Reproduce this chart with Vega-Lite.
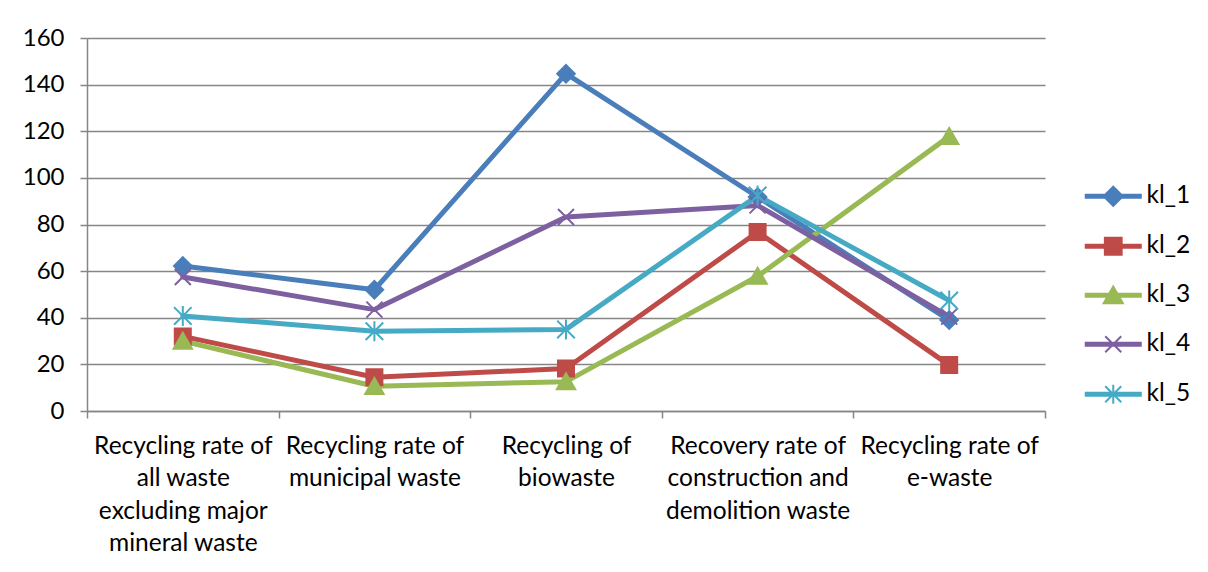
{
  "$schema": "https://vega.github.io/schema/vega-lite/v6.json",
  "width": 958,
  "height": 373,
  "autosize": {"type": "none"},
  "padding": {"left": 87, "top": 38, "right": 163, "bottom": 161},
  "background": "white",
  "config": {"view": {"stroke": null}, "font": "Lato"},
  "data": {"values": [
    {"series": "kl_1", "category": "Recycling rate of all waste excluding major mineral waste", "value": 62.2},
    {"series": "kl_1", "category": "Recycling rate of municipal waste", "value": 52},
    {"series": "kl_1", "category": "Recycling of biowaste", "value": 144.7},
    {"series": "kl_1", "category": "Recovery rate of construction and demolition waste", "value": 91.8},
    {"series": "kl_1", "category": "Recycling rate of e-waste", "value": 39},
    {"series": "kl_2", "category": "Recycling rate of all waste excluding major mineral waste", "value": 32},
    {"series": "kl_2", "category": "Recycling rate of municipal waste", "value": 14.5},
    {"series": "kl_2", "category": "Recycling of biowaste", "value": 18.2},
    {"series": "kl_2", "category": "Recovery rate of construction and demolition waste", "value": 76.8},
    {"series": "kl_2", "category": "Recycling rate of e-waste", "value": 19.7},
    {"series": "kl_3", "category": "Recycling rate of all waste excluding major mineral waste", "value": 30},
    {"series": "kl_3", "category": "Recycling rate of municipal waste", "value": 10.6},
    {"series": "kl_3", "category": "Recycling of biowaste", "value": 12.6},
    {"series": "kl_3", "category": "Recovery rate of construction and demolition waste", "value": 57.8},
    {"series": "kl_3", "category": "Recycling rate of e-waste", "value": 117.8},
    {"series": "kl_4", "category": "Recycling rate of all waste excluding major mineral waste", "value": 57.5},
    {"series": "kl_4", "category": "Recycling rate of municipal waste", "value": 43.5},
    {"series": "kl_4", "category": "Recycling of biowaste", "value": 83.2},
    {"series": "kl_4", "category": "Recovery rate of construction and demolition waste", "value": 88.2},
    {"series": "kl_4", "category": "Recycling rate of e-waste", "value": 40.5},
    {"series": "kl_5", "category": "Recycling rate of all waste excluding major mineral waste", "value": 40.8},
    {"series": "kl_5", "category": "Recycling rate of municipal waste", "value": 34.2},
    {"series": "kl_5", "category": "Recycling of biowaste", "value": 35},
    {"series": "kl_5", "category": "Recovery rate of construction and demolition waste", "value": 92.4},
    {"series": "kl_5", "category": "Recycling rate of e-waste", "value": 47.4}
  ]},
  "encoding": {
    "x": {
      "field": "category",
      "type": "nominal",
      "sort": ["Recycling rate of all waste excluding major mineral waste", "Recycling rate of municipal waste", "Recycling of biowaste", "Recovery rate of construction and demolition waste", "Recycling rate of e-waste"],
      "scale": {"type": "band", "paddingInner": 0, "paddingOuter": 0},
      "axis": {
        "title": null,
        "tickBand": "extent",
        "tickSize": 7,
        "tickColor": "#868686",
        "tickWidth": 1.5,
        "domainColor": "#868686",
        "domainWidth": 1.5,
        "grid": false,
        "labelAngle": 0,
        "labelFont": "Lato",
        "labelFontSize": 24.5,
        "labelColor": "black",
        "labelPadding": 16,
        "labelLineHeight": 32.5,
        "labelLimit": 0,
        "labelBaseline": "top",
        "labelExpr": "datum.value == 'Recycling rate of all waste excluding major mineral waste' ? ['Recycling rate of', 'all waste', 'excluding major', 'mineral waste'] : datum.value == 'Recycling rate of municipal waste' ? ['Recycling rate of', 'municipal waste'] : datum.value == 'Recycling of biowaste' ? ['Recycling of', 'biowaste'] : datum.value == 'Recovery rate of construction and demolition waste' ? ['Recovery rate of', 'construction and', 'demolition waste'] : datum.value == 'Recycling rate of e-waste' ? ['Recycling rate of', 'e-waste'] : ''"
      }
    },
    "y": {
      "field": "value",
      "type": "quantitative",
      "scale": {"domain": [0, 160], "nice": false},
      "axis": {
        "title": null,
        "values": [0, 20, 40, 60, 80, 100, 120, 140, 160],
        "grid": true,
        "gridColor": "#868686",
        "gridWidth": 1.5,
        "domainColor": "#868686",
        "domainWidth": 1.5,
        "tickColor": "#868686",
        "tickWidth": 1.5,
        "tickSize": 7,
        "labelFont": "Lato",
        "labelFontSize": 24,
        "labelColor": "black",
        "labelPadding": 16
      }
    },
    "color": {
      "field": "series",
      "type": "nominal",
      "scale": {"domain": ["kl_1", "kl_2", "kl_3", "kl_4", "kl_5"], "range": ["#4A7EBB", "#BE4B48", "#98B954", "#7D60A0", "#46AAC5"]},
      "legend": {
        "title": null,
        "orient": "none",
        "legendX": 1014,
        "legendY": 146,
        "padding": 0,
        "labelFont": "Lato",
        "labelFontSize": 24.5,
        "labelColor": "black",
        "labelOffset": 21,
        "rowPadding": 23,
        "symbolSize": 256,
        "symbolStrokeWidth": 2,
        "encode": {
          "symbols": {
            "update": {
              "shape": {"signal": "datum.value == 'kl_1' ? 'M-3.44,-0.2L3.44,-0.2L3.44,0.2L-3.44,0.2Z M0,-1.2L1.2,0L0,1.2L-1.2,0Z' : datum.value == 'kl_2' ? 'M-3.44,-0.2L3.44,-0.2L3.44,0.2L-3.44,0.2Z M-1.05,-1.05L1.05,-1.05L1.05,1.05L-1.05,1.05Z' : datum.value == 'kl_3' ? 'M-3.44,-0.2L3.44,-0.2L3.44,0.2L-3.44,0.2Z M0,-1.1L1.2,1L-1.2,1Z' : datum.value == 'kl_4' ? 'M-3.44,-0.2L3.44,-0.2L3.44,0.2L-3.44,0.2Z M-1,-1L1,1M-1,1L1,-1' : 'M-3.44,-0.2L3.44,-0.2L3.44,0.2L-3.44,0.2Z M-1,-1L1,1M-1,1L1,-1M0,-1.2L0,1.2'"},
              "fill": {"signal": "scale('color', datum.value)"},
              "stroke": {"signal": "scale('color', datum.value)"},
              "strokeWidth": {"value": 2},
              "opacity": {"value": 1}
            }
          }
        }
      }
    }
  },
  "layer": [
    {
      "mark": {"type": "line", "strokeWidth": 5, "strokeJoin": "round", "strokeCap": "round"}
    },
    {
      "mark": {"type": "point", "filled": true, "size": 256, "opacity": 1, "strokeWidth": 2},
      "encoding": {
        "shape": {
          "field": "series",
          "type": "nominal",
          "scale": {"domain": ["kl_5", "kl_4", "kl_3", "kl_2", "kl_1"], "range": ["M-1.1,-1.1L1.1,1.1M-1.1,1.1L1.1,-1.1M0,-1.25L0,1.25", "M-1,-1L1,1M-1,1L1,-1", "M0,-1.05L1.15,0.95L-1.15,0.95Z", "M-1,-1L1,-1L1,1L-1,1Z", "M0,-1.1L1.1,0L0,1.1L-1.1,0Z"]},
          "legend": null
        },
        "stroke": {
          "field": "series",
          "type": "nominal",
          "scale": {"domain": ["kl_1", "kl_2", "kl_3", "kl_4", "kl_5"], "range": ["#4A7EBB", "#BE4B48", "#98B954", "#7D60A0", "#46AAC5"]},
          "legend": null
        }
      }
    }
  ]
}
